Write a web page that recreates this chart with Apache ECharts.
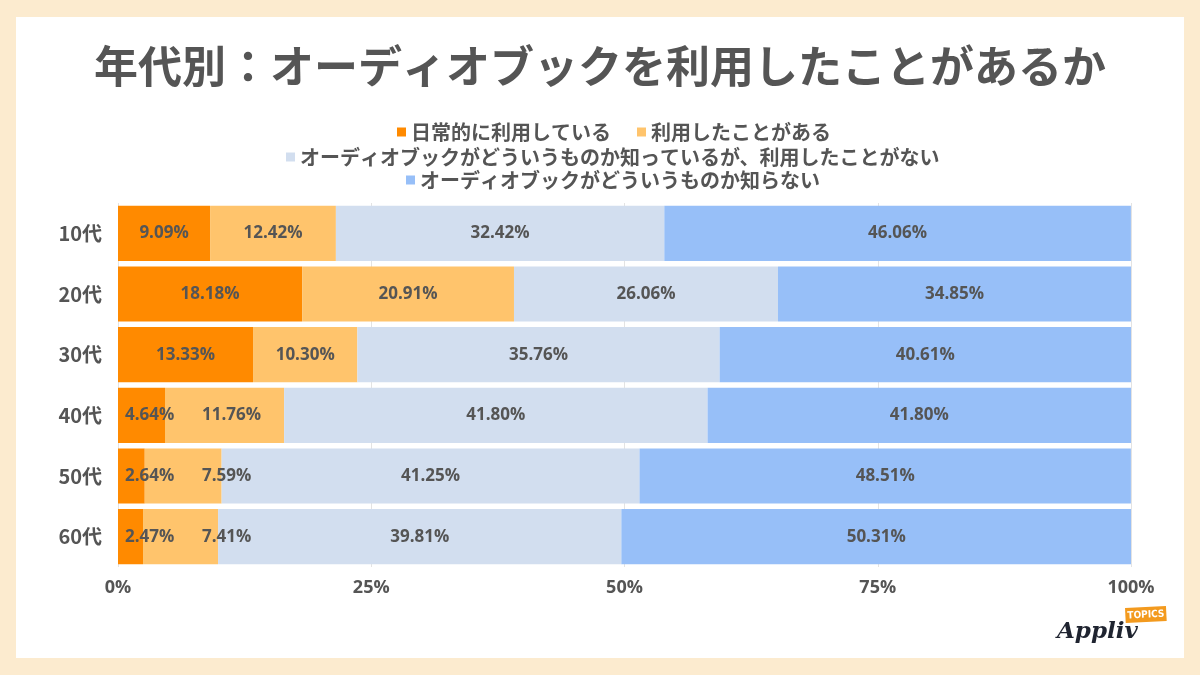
<!DOCTYPE html>
<html>
<head>
    <meta charset="utf-8">
    <title>年代別：オーディオブックを利用したことがあるか</title>
    <script src="https://cdn.jsdelivr.net/npm/echarts@6/dist/echarts.min.js"></script>
    <style>
        html, body { margin: 0; padding: 0; }
        #main { width: 1200px; height: 675px; }
    </style>
</head>
<body>
<div id="main"></div>
<script type="text/javascript">
    // 年代
    var ages = ['10代', '20代', '30代', '40代', '50代', '60代'];
    // 凡例
    var seriesNames = [
        '日常的に利用している',
        '利用したことがある',
        'オーディオブックがどういうものか知っているが、利用したことがない',
        'オーディオブックがどういうものか知らない'
    ];
    // 各回答の割合(%)
    var daily   = [9.09, 18.18, 13.33, 4.64, 2.64, 2.47];
    var used    = [12.42, 20.91, 10.30, 11.76, 7.59, 7.41];
    var knowNot = [32.42, 26.06, 35.76, 41.80, 41.25, 39.81];
    var unknown = [46.06, 34.85, 40.61, 41.80, 48.51, 50.31];
    var xTicks  = [0, 25, 50, 75, 100];

    var colors = ['#FF8A00', '#FFC46C', '#D2DEEF', '#97BFF8'];
    var font = '"Noto Sans CJK JP", "Noto Sans", sans-serif';
    var numFont = '"Open Sans", "Noto Sans CJK JP", sans-serif';
    var textColor = '#555555';

    var gridLeft = 118, gridRight = 69;
    var pxPerPct = (1200 - gridLeft - gridRight) / 100;

    var myChart = echarts.init(document.getElementById('main'));

    var labelBase = {
        show: true,
        color: textColor,
        fontFamily: numFont,
        fontWeight: 'bold',
        fontSize: 17,
        formatter: function (p) { return p.value.toFixed(2) + '%'; }
    };

    // 幅が狭い区間はラベルが重ならないよう左寄せにする
    function firstData(arr) {
        return arr.map(function (v) {
            if (v < 6) {
                return { value: v, label: { position: 'insideLeft', distance: 7 } };
            }
            return v;
        });
    }
    function secondData(arr, prev) {
        return arr.map(function (v, i) {
            if (prev[i] < 6) {
                var d = Math.max(6, 84 - prev[i] * pxPerPct);
                return { value: v, label: { position: 'insideLeft', distance: d } };
            }
            return v;
        });
    }

    var dataSets = [firstData(daily), secondData(used, daily), knowNot, unknown];

    var series = seriesNames.map(function (name, i) {
        return {
            name: name,
            type: 'bar',
            stack: 'total',
            barCategoryGap: '9%',
            itemStyle: { color: colors[i] },
            label: labelBase,
            emphasis: { disabled: true },
            data: dataSets[i]
        };
    });

    var legendText = { color: textColor, fontFamily: font, fontWeight: 'bold', fontSize: 20 };
    function legend(items, left, top) {
        return {
            data: items,
            top: top,
            left: left,
            icon: 'rect',
            itemWidth: 9,
            itemHeight: 9,
            itemGap: 26,
            textStyle: legendText,
            selectedMode: false
        };
    }

    var option = {
        backgroundColor: '#FCEBCF',
        animation: false,
        title: {
            text: '年代別：オーディオブックを利用したことがあるか',
            left: 'center',
            top: 39,
            textStyle: { color: textColor, fontFamily: font, fontWeight: 'bold', fontSize: 44 }
        },
        legend: [
            legend([seriesNames[0], seriesNames[1]], 392, 117),
            legend([seriesNames[2]], 281, 142),
            legend([seriesNames[3]], 401, 165)
        ],
        grid: { left: gridLeft, right: gridRight, top: 203, bottom: 108, containLabel: false },
        xAxis: {
            type: 'value',
            min: xTicks[0],
            max: xTicks[xTicks.length - 1],
            interval: 25,
            axisLine: { show: false },
            axisTick: { show: false },
            splitLine: { show: true, lineStyle: { color: '#E3E3E3', width: 1 } },
            axisLabel: {
                color: textColor, fontFamily: numFont, fontWeight: 'bold', fontSize: 18, margin: 12,
                formatter: '{value}%'
            }
        },
        yAxis: {
            type: 'category',
            data: ages,
            inverse: true,
            axisLine: { show: false },
            axisTick: { show: false },
            axisLabel: { color: textColor, fontFamily: font, fontWeight: 'bold', fontSize: 20, margin: 16 }
        },
        graphic: [
            {
                type: 'rect', z: -10, silent: true,
                shape: { x: 16, y: 17, width: 1168, height: 641 },
                style: { fill: '#FFFFFF' }
            },
            {
                type: 'group', z: 10, silent: true,
                x: 1125, y: 608, rotation: 0.05,
                children: [
                    {
                        type: 'rect', z: 10,
                        shape: { x: 0, y: 0, width: 41, height: 15 },
                        style: { fill: '#F39A1E' }
                    },
                    {
                        type: 'text', z: 11,
                        style: {
                            x: 20.5, y: 8, text: 'TOPICS', align: 'center', verticalAlign: 'middle',
                            fill: '#FFFFFF', font: 'bold 10px "DejaVu Sans Condensed", sans-serif'
                        }
                    }
                ]
            },
            {
                type: 'text', z: 11, silent: true,
                style: {
                    x: 1057, y: 632, text: 'Appliv', verticalAlign: 'middle',
                    fill: '#1F2430', font: 'italic bold 23px "DejaVu Serif", serif'
                }
            }
        ],
        series: series
    };

    myChart.setOption(option);
</script>
</body>
</html>
